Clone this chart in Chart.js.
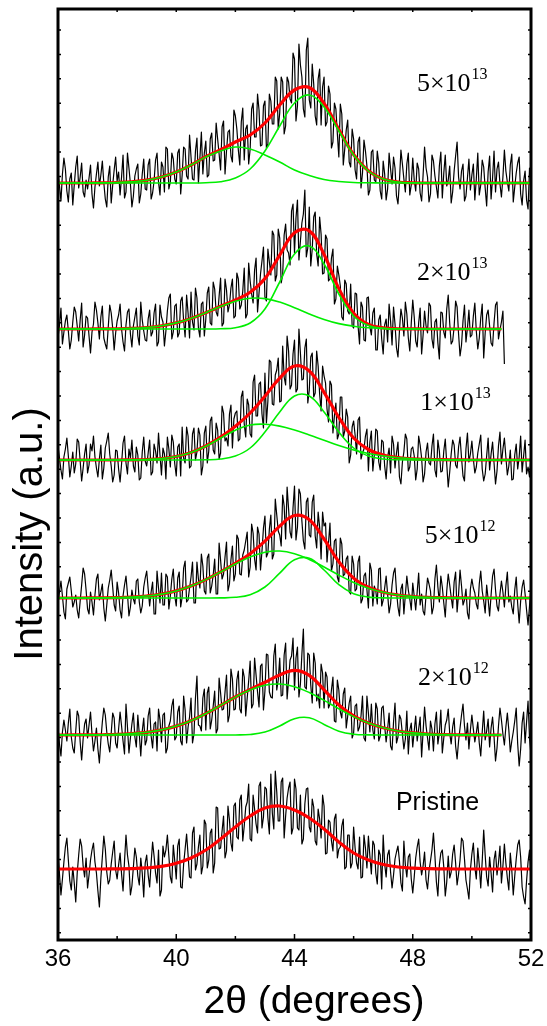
<!DOCTYPE html>
<html>
<head>
<meta charset="utf-8">
<script src="https://cdn.jsdelivr.net/npm/chart.js@4.4.0/dist/chart.umd.min.js"></script>
<style>
  html, body { margin: 0; padding: 0; background: #fff; }
  #wrap { width: 547px; height: 1026px; }
</style>
</head>
<body>
<div id="wrap"><canvas id="xrd" width="547" height="1026"></canvas></div>
<script>
// 2-theta sampling: raw scans every 0.05 deg, fitted curves every 0.5 deg
const scanStart = 36, scanStep = 0.05;
const fitStart = 36, fitStep = 0.5;

// samples from top to bottom, and the offset each trace is stacked at
const doseBase = ['5×10', '2×10', '1×10', '5×10', '2×10', 'Pristine'];
const doseExp = ['13', '13', '13', '12', '12', ''];
const stackOffsets = [757, 611, 480, 342, 205, 71];

const xTickLabels = [36, 40, 44, 48, 52];

// --- raw scans (intensity above each baseline), one row per degree ---
const scan5e13 = [
  12,-3,-18,9,25,14,-8,-19,4,10,-22,-2,16,27,-5,6,20,-9,-14,3,
  -6,5,18,-11,-25,-4,9,21,-3,8,22,0,-16,-24,6,17,-20,-2,13,26,
  2,11,-12,6,28,-15,-9,30,15,-1,-24,-13,7,14,19,-20,-11,9,24,-6,
  -7,18,24,-16,-10,2,23,30,1,-12,21,16,-9,36,34,-6,1,30,24,4,
  -1,30,34,-11,8,36,34,7,4,48,26,4,3,32,45,0,25,51,9,30,
  42,6,8,44,50,22,23,60,44,29,13,56,62,9,32,51,53,27,21,73,
  67,54,33,18,61,75,23,54,58,19,34,74,80,46,46,89,73,37,38,77,
  82,35,39,89,82,59,59,106,102,54,70,106,101,49,57,106,101,84,80,130,
  124,62,77,139,118,106,74,66,133,145,83,75,119,99,67,58,104,114,58,96,
  106,57,61,97,89,35,41,80,74,49,26,79,69,18,34,53,63,21,16,54,
  44,13,4,41,46,-5,10,43,32,17,-12,-7,31,33,3,1,32,20,-8,-16,
  22,9,-17,-6,30,14,-1,26,15,-13,-21,2,33,19,4,-9,19,30,-12,-2,
  25,3,-8,20,14,-10,-18,8,36,15,6,-19,-11,28,22,7,-4,-15,17,31,
  -15,10,28,-3,3,17,-20,-9,12,27,41,6,-6,12,19,-18,-13,5,24,-7,
  8,19,-17,4,30,-12,-2,23,16,-5,-23,11,27,-16,5,32,-9,14,21,-1,
  -14,6,33,12,1,-8,18,29,-19,-4,10,20,26,-11,-22,2,12,-17,-26,15,
  4
];
const scan2e13 = [
  -9,4,21,-15,-3,8,14,-2,-20,-11,7,22,17,3,-12,9,26,-18,-6,13,
  11,-7,-24,-3,5,27,19,6,-10,12,23,-9,-15,-20,2,24,16,1,-21,-4,
  8,14,25,0,-13,-22,4,17,20,-5,-18,3,12,21,-7,-16,27,9,-2,-11,
  -12,10,19,-7,-3,16,25,-17,-13,24,12,7,-17,-2,18,31,35,-10,-3,23,
  25,-8,-4,28,32,8,-8,34,16,-9,37,7,-1,41,31,1,-8,25,27,-7,
  10,36,42,6,4,47,40,17,13,33,51,3,6,50,39,17,24,41,50,11,
  13,56,50,20,24,38,61,11,15,66,48,35,26,59,71,17,36,55,68,82,
  32,28,80,67,54,98,94,48,54,100,91,46,54,94,105,79,76,64,118,125,
  76,111,129,69,88,106,115,139,72,81,122,63,80,112,117,75,63,112,95,55,
  56,94,90,48,50,71,80,25,30,63,54,43,12,9,49,45,18,15,45,3,
  1,36,35,3,-15,27,22,-11,-12,31,32,2,-6,16,21,-21,-21,9,14,-10,
  -25,4,10,-13,25,8,-16,22,5,-19,-28,-2,20,11,-7,27,15,-9,-22,6,
  29,12,-12,-18,6,21,-25,-6,18,3,-4,26,23,-10,-19,7,10,-14,-30,17,
  16,-3,-9,20,34,6,-15,-12,2,28,22,-5,-27,-16,8,24,-13,1,19,-8,
  -6,13,26,-2,-20,-9,11,25,-29,-4,14,19,3,-14,-17,6,24,27,-10,-1,
  7,18,-35
];
const scan1e13 = [
  14,2,-10,-19,3,11,22,4,-17,-6,8,-13,-4,21,18,-1,-21,-8,6,16,
  -13,-5,16,9,24,3,-8,-17,1,15,-19,-8,12,19,27,6,-6,-22,-15,10,
  9,-9,-22,-4,17,24,-3,-14,11,2,20,-6,-12,13,5,-20,-18,8,23,-1,
  -6,7,20,-15,-12,16,9,-3,27,5,-15,12,6,-19,23,11,-7,25,18,-4,
  -16,13,16,-16,33,2,-3,33,24,-8,-6,26,32,0,8,32,25,-15,-6,27,
  34,-3,9,39,43,10,6,37,30,1,7,54,47,19,22,14,46,55,12,41,
  47,49,19,21,63,69,36,23,61,55,26,23,78,85,44,44,76,78,46,32,
  87,37,59,100,98,56,55,85,90,102,58,59,114,83,75,124,109,71,75,106,
  120,68,71,131,107,80,81,112,121,57,70,103,107,63,67,109,94,66,49,94,
  84,77,51,38,79,75,27,44,57,21,26,63,63,23,29,51,43,-3,5,33,
  39,25,6,40,43,1,7,11,24,31,-11,18,29,-11,5,31,29,-2,-10,20,
  18,-6,-19,3,12,-13,24,16,-8,7,18,-17,-24,-2,8,26,21,-11,-7,11,
  13,4,-20,-9,24,15,2,-22,-14,8,17,-3,-5,14,26,-10,-17,20,9,-12,
  -11,9,21,-4,-27,-12,6,20,15,-5,-8,13,23,2,-16,-21,11,27,-2,6,
  19,1,-13,-7,7,16,25,-9,-21,-14,4,22,-10,6,18,-3,-24,-11,14,28,
  -4,11,22,3,-15,-6,10,-20,-19,5,16,-9,3,24,-12,4,20,-14,-7,-17,
  5
];
const scan5e12 = [
  -5,6,17,2,-14,-21,9,15,21,7,-9,-4,3,-12,-20,-3,13,30,24,8,
  -11,-16,6,-4,-17,3,19,24,-2,6,14,-10,-23,-7,10,18,28,11,-7,-13,
  16,5,-12,-20,2,13,22,4,-18,-9,8,-1,-6,17,19,-4,-15,-8,11,20,
  27,9,-8,6,16,-16,-16,27,10,-5,25,-7,-7,24,21,-11,2,19,29,2,
  -8,20,26,-9,1,30,37,-4,-2,10,21,36,-5,-5,36,19,10,44,32,7,
  4,40,44,5,12,23,39,4,4,55,38,19,24,41,56,7,14,38,52,17,
  24,63,59,24,23,43,48,57,66,21,31,74,65,39,28,71,64,28,47,70,
  82,41,45,69,83,39,44,99,83,67,63,52,103,92,59,111,89,66,60,90,
  112,58,71,109,104,77,57,49,96,100,63,61,96,103,62,50,86,71,39,86,
  72,75,36,55,75,27,34,57,59,21,16,60,54,22,24,39,42,6,4,42,
  34,7,9,36,42,-5,-1,22,25,8,-10,35,28,-8,12,7,-6,29,30,-8,
  -2,10,22,4,-15,-6,13,25,30,7,-9,-18,9,14,-16,3,22,8,-1,-12,
  15,2,-12,6,25,-7,4,-13,-17,3,20,14,7,-16,-9,19,33,11,-4,22,
  11,-5,-19,7,24,13,1,-10,16,26,-14,4,28,12,-7,-2,9,-15,-21,9,
  19,10,5,-6,-11,14,27,7,-3,-15,13,-1,-18,3,22,29,8,-8,-13,4,
  17,6,-9,12,26,-4,2,-9,-16,8,21,-6,-25,-3,11,18,4,-12,-27,-8,
  12
];
const scan2e12 = [
  8,-9,-21,3,15,5,-6,12,26,-2,-13,-18,4,24,19,-7,-25,-4,11,16,
  -3,10,23,1,-16,-6,7,-14,-28,-5,13,27,20,3,-9,-17,2,22,17,-8,
  -13,6,23,9,-6,-19,31,8,-18,-3,11,22,-2,-12,20,1,-21,4,17,-10,
  -5,19,27,-1,-13,11,13,-16,26,15,-7,20,22,-18,-13,9,14,29,36,-5,
  -2,23,29,-6,-10,39,25,-8,8,18,37,-8,1,37,59,10,9,4,37,46,
  5,42,48,6,15,29,44,2,6,57,42,25,26,43,60,13,20,66,56,25,
  26,55,64,26,22,66,58,19,37,54,74,27,31,77,60,43,28,69,71,25,
  44,81,80,43,38,37,79,91,45,55,77,39,40,80,92,36,55,75,79,97,
  45,77,88,38,51,81,106,48,46,82,80,50,32,82,72,34,41,27,71,62,
  27,63,58,27,31,45,58,14,13,55,45,23,17,41,47,7,19,32,39,-3,
  2,29,31,4,8,19,39,-3,-6,39,22,3,31,5,-4,32,26,-6,-1,27,
  29,9,-7,6,22,-11,-15,13,32,-8,-2,20,16,1,-14,-4,24,-19,5,12,
  -12,4,19,-6,6,18,-22,3,28,9,-3,-15,14,6,-16,11,23,-9,2,25,
  -18,-3,10,15,26,2,-9,8,17,-11,-24,-6,7,20,31,9,-5,12,-14,5,
  20,6,-7,2,13,-8,-21,3,24,-5,4,16,-12,7,18,-2,-26,-13,9,27,
  15,1,-10,8,22,5,-17,-6,3,14,27,-9,-31,-14,12,23,-8,13,34,-3,
  -20
];
const scanPristine = [
  18,-5,-26,-10,7,22,31,9,-12,-21,2,-14,-33,-4,14,30,23,3,-8,11,
  -19,-6,9,19,26,7,-4,-22,-38,-9,12,33,20,-3,-15,-11,5,17,28,-1,
  -10,4,16,-5,-22,8,34,14,3,-26,-17,2,21,12,-7,-16,11,-4,-28,6,
  14,-6,-18,6,27,13,-4,-14,19,-27,-21,23,12,19,34,13,-8,-14,24,8,
  -10,23,30,-18,-19,5,20,35,14,-8,-9,36,42,-1,5,22,34,-5,3,49,
  45,1,9,36,40,-4,6,62,61,20,21,38,53,11,18,63,49,26,18,63,
  66,32,30,69,74,28,43,62,67,85,30,28,74,60,45,36,83,87,41,52,
  82,80,51,35,95,56,40,98,77,48,48,87,91,31,53,71,81,87,35,41,
  90,80,41,39,74,25,30,65,80,81,42,37,70,62,28,24,60,50,31,74,
  63,15,16,49,47,28,18,50,55,11,20,22,43,50,0,2,34,34,1,6,
  42,21,6,0,32,-9,-8,34,21,1,33,13,-5,28,24,-4,-15,19,14,-20,
  34,5,-8,14,19,-3,-19,-6,10,17,23,8,-14,-22,28,4,-8,12,15,-10,
  -24,-8,11,22,30,7,-6,3,17,-11,-20,-2,8,19,36,13,-13,-27,4,16,
  19,2,-27,-13,13,-9,-3,15,24,6,-16,-5,9,31,28,10,-11,-20,-30,-1,
  15,26,2,-10,21,4,-19,8,39,14,-8,-17,12,-4,-23,9,18,-6,6,23,
  -14,3,25,6,-9,-21,16,-1,-26,-7,10,24,29,12,-18,-28,-35,-12,7,19,
  -12
];

// --- fitted curves (every 0.5 deg from 36) ---
const fit5e13 = [0,0,0,0.2,0.5,1.2,2.8,6,11,18,26.3,33.3,41,48,60,78,93,95.5,79.5,53.5,28.5,12.2,4,1,0.2,0,0,0,0,0,0,0,0];
const peakA5e13 = [0,0,0,0.2,0.5,1.2,2.8,6,11,18,26,32,36,34,28,21,13,7.5,3.5,1.5,0.5,0.2,0,0,0,0,0,0,0,0,0,0,0];
const peakB5e13 = [0,0,0,0,0,0,0,0,0,0,0.3,1.3,5,14,32,57,80,88,76,52,28,12,4,1,0.2,0,0,0,0,0,0,0,0];

const fit2e13 = [0,0,0,0.1,0.2,0.6,1.5,3.2,6.1,10.6,16.3,22.7,29.1,36.7,50.4,73.9,96.3,98.1,74.6,40.4,15.8,4.6,1.1,0.2,0.1,0,0,0,0,0,0];
const peakA2e13 = [0,0,0,0.1,0.2,0.6,1.5,3.2,6.1,10.6,16.3,22.5,27.8,30.7,30.4,26.9,21.3,15.1,9.6,5.4,2.8,1.2,0.5,0.2,0.1,0,0,0,0,0,0];
const peakB2e13 = [0,0,0,0,0,0,0,0,0,0,0,0.2,1.3,6,20,47,75,83,65,35,13,3.4,0.6,0,0,0,0,0,0,0,0];

const fit1e13 = [0,0,0,0,0,0.15,0.5,1.4,3.5,7.5,14,22.8,33.8,47,63.8,81.9,94,89,67.7,42.5,22,10.5,5,2.5,1.2,0.6,0.3,0.1,0,0,0,0,0];
const peakA1e13 = [0,0,0,0,0,0.15,0.5,1.4,3.5,7.5,13.8,21.8,29.8,35,35.8,33.9,30,25,19.7,14.5,10,6.5,4,2.3,1.2,0.6,0.3,0.1,0,0,0,0,0];
const peakB1e13 = [0,0,0,0,0,0,0,0,0,0,0.2,1,4,12,28,48,64,64,48,28,12,4,1,0.2,0,0,0,0,0,0,0,0,0];

const fit5e12 = [0,0,0.06,0.16,0.4,0.9,2,3.9,7.1,11.9,18.4,26.1,34.7,44.3,56.8,71.9,82.5,78.3,59,36.2,19.9,10.7,5.8,3,1.5,0.7,0.3,0.1,0,0,0,0,0];
const peakA5e12 = [0,0,0.06,0.16,0.4,0.9,2,3.9,7.1,11.9,18.4,26,34,41,45.8,47,44.3,38.6,31,22.9,15.6,9.8,5.7,3,1.5,0.7,0.3,0.1,0,0,0,0,0];
const peakB5e12 = [0,0,0,0,0,0,0,0,0,0,0,0.1,0.7,3.3,11,24.9,38.2,39.7,28,13.3,4.3,0.9,0.1,0,0,0,0,0,0,0,0,0,0];

const fit2e12 = [0,0.04,0.1,0.27,0.6,1.4,2.7,5.1,8.9,14.3,21.4,29.6,38,45.6,52.7,60,64.6,59.7,45.2,30,19.2,12,7.2,4,2.1,1,0.45,0.2,0.08,0,0];
const peakA2e12 = [0,0.04,0.1,0.27,0.6,1.4,2.7,5.1,8.9,14.3,21.4,29.6,37.9,45.1,49.8,51,48.3,42.5,34.6,26.2,18.4,11.9,7.2,4,2.1,1,0.45,0.2,0.08,0,0];
const peakB2e12 = [0,0,0,0,0,0,0,0,0,0,0,0,0.06,0.5,2.9,9,16.3,17.2,10.6,3.8,0.8,0.1,0,0,0,0,0,0,0,0,0];

const fitPristine = [0,0,0,0,0.15,0.4,1.1,2.6,5.7,11,19,30,42,53,61,63,59,51,40,27,16,9,4.5,2,0.8,0.3,0.1,0,0,0,0,0,0];

const scans = [scan5e13, scan2e13, scan1e13, scan5e12, scan2e12, scanPristine];
const totals = [fit5e13, fit2e13, fit1e13, fit5e12, fit2e12, fitPristine];
const components = [
  [peakA5e13, peakB5e13],
  [peakA2e13, peakB2e13],
  [peakA1e13, peakB1e13],
  [peakA5e12, peakB5e12],
  [peakA2e12, peakB2e12],
  []
];

function toPoints(values, start, step, offset) {
  return values.map((v, i) => ({ x: +(start + i * step).toFixed(2), y: offset + v }));
}

const datasets = [];
scans.forEach((scan, k) => {
  const off = stackOffsets[k];
  datasets.push({
    data: toPoints(scan, scanStart, scanStep, off),
    borderColor: '#000', borderWidth: 1.2, order: 3
  });
  datasets.push({
    data: toPoints(totals[k], fitStart, fitStep, off),
    borderColor: '#ff0000', borderWidth: 3.2, order: 2, tension: 0.4
  });
  components[k].forEach(c => {
    datasets.push({
      data: toPoints(c, fitStart, fitStep, off),
      borderColor: '#00ee00', borderWidth: 1.6, order: 1, tension: 0.4
    });
  });
});

// where the sample names sit, in axis units (deg, intensity)
const labelSpots = [[48.14, 849.5], [48.14, 660], [48.25, 530], [48.41, 397], [48.18, 255], [47.43, 130]];

const frameDecor = {
  id: 'frameDecor',
  afterDraw(chart) {
    const { ctx, chartArea: a, scales: { x, y } } = chart;
    ctx.save();
    ctx.strokeStyle = '#000';
    ctx.fillStyle = '#000';

    // frame
    ctx.lineWidth = 3;
    ctx.strokeRect(a.left, a.top, a.right - a.left, a.bottom - a.top);

    // inward ticks
    ctx.lineWidth = 1.5;
    ctx.beginPath();
    for (let v = 36; v <= 52; v += 2) {
      const px = x.getPixelForValue(v);
      const len = v % 4 === 0 ? 6 : 4;
      ctx.moveTo(px, a.bottom); ctx.lineTo(px, a.bottom - len);
      ctx.moveTo(px, a.top); ctx.lineTo(px, a.top + 3);
    }
    for (let v = 910; v > 0; v -= 24.4) {
      const py = y.getPixelForValue(v);
      ctx.moveTo(a.left, py); ctx.lineTo(a.left + 3, py);
      ctx.moveTo(a.right, py); ctx.lineTo(a.right - 3, py);
    }
    ctx.stroke();

    // x tick labels
    ctx.font = '24px "Liberation Sans", Arial, sans-serif';
    ctx.textAlign = 'center';
    ctx.textBaseline = 'alphabetic';
    xTickLabels.forEach(t => ctx.fillText(String(t), x.getPixelForValue(t), 966));

    // axis titles
    ctx.font = '39px "Liberation Sans", Arial, sans-serif';
    ctx.fillText('2θ (degrees)', 314, 1013);

    ctx.save();
    ctx.translate(42, 534);
    ctx.rotate(-Math.PI / 2);
    ctx.font = '40px "Liberation Sans", Arial, sans-serif';
    ctx.fillText('Intensity (a.u.)', 0, 0);
    ctx.restore();

    // sample labels
    ctx.textAlign = 'left';
    doseBase.forEach((txt, k) => {
      const px = x.getPixelForValue(labelSpots[k][0]);
      const py = y.getPixelForValue(labelSpots[k][1]);
      if (doseExp[k]) {
        ctx.font = '26px "Liberation Serif", "Times New Roman", serif';
        ctx.fillText(txt, px, py);
        const w = ctx.measureText(txt).width;
        ctx.font = '16px "Liberation Serif", "Times New Roman", serif';
        ctx.fillText(doseExp[k], px + w + 1, py - 12);
      } else {
        ctx.font = '25px "Liberation Sans", Arial, sans-serif';
        ctx.fillText(txt, px, py);
      }
    });
    ctx.restore();
  }
};

new Chart(document.getElementById('xrd'), {
  type: 'line',
  data: { datasets },
  options: {
    responsive: false,
    animation: false,
    events: [],
    layout: { padding: { left: 58, right: 16, top: 9, bottom: 86 } },
    scales: {
      x: { type: 'linear', min: 36, max: 52, display: false },
      y: { type: 'linear', min: 0, max: 931, display: false }
    },
    elements: { point: { radius: 0 }, line: { borderJoinStyle: 'round' } },
    plugins: { legend: { display: false }, tooltip: { enabled: false } }
  },
  plugins: [frameDecor]
});
</script>
</body>
</html>
